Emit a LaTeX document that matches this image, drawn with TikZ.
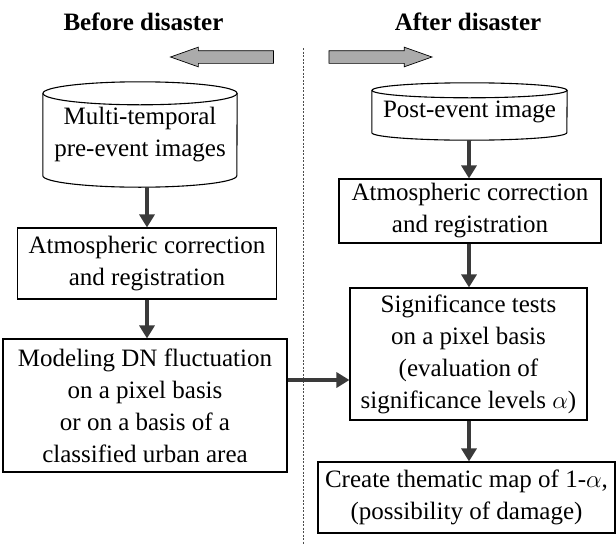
\documentclass[tikz,border=0pt]{standalone}
\usepackage{fontspec}
\setmainfont{Liberation Serif}
\usepackage{tikz}
\usetikzlibrary{arrows.meta,shapes.arrows}
\definecolor{flowink}{HTML}{3A3A3A}
\definecolor{hatchgray}{HTML}{ABABAB}

\begin{document}
\begin{tikzpicture}[
  x=1pt, y=-1pt,
  font=\fontsize{25}{32}\selectfont,
  >={Triangle[length=13pt,width=15pt]},
  stepbox/.style={draw=black, line width=1.1pt, fill=white, align=center,
                  inner sep=2pt},
  cylbody/.style={align=center, inner sep=0pt},
  cyl/.style={draw=black, line width=1.1pt},
  ar/.style={->, draw=flowink, line width=3.4pt},
  side/.style={single arrow, draw=black, line width=0.7pt, fill=hatchgray,
               minimum width=19pt, minimum height=103pt,
               single arrow head extend=3.5pt, single arrow head indent=0pt,
               single arrow tip angle=39, inner sep=6pt},
  head/.style={font=\fontsize{25}{30}\selectfont\bfseries}
]
\useasboundingbox (0,0) rectangle (616,544);

% ==== column geometry
\def\ca{147}   \def\cb{469}   % before, after
\def\xsep{303}                % divider

% ==== headings and direction arrows
\node[head] (hB) at (143.5,22) {Before disaster};
\node[head] (hA) at (468,22) {After disaster};
\node[side, shape border rotate=180] (toB) at (231,57) {};
\node[side] (toA) at (371.5,57) {};
\draw[draw=black!70, line width=0.6pt, dash pattern=on 2pt off 1.5pt]
     (\xsep,48) -- (\xsep,544);

% ==== before disaster
\node[cylbody, minimum width=194pt, minimum height=82pt] (preimg) at (140,134.5)
     {Multi-temporal\\pre-event images};
\draw[cyl] (preimg.north) ellipse [x radius=97pt, y radius=11.5pt];
\draw[cyl] (preimg.north west) -- (preimg.south west)
     arc[start angle=180, end angle=360, x radius=97pt, y radius=11.5pt]
     -- (preimg.north east);
\coordinate (preimgB) at (\ca,187);

\node[stepbox, minimum width=259pt, minimum height=71pt] (atmB) at (\ca,263.5)
     {Atmospheric correction\\and registration};
\node[stepbox, minimum width=284pt, minimum height=133pt] (model) at (145,405.5)
     {Modeling DN fluctuation\\on a pixel basis\\or on a basis of a\\classified urban area};
\draw[ar] (preimgB) -- (atmB.north);
\draw[ar] (atmB.south -| \ca,0) -- (model.north -| \ca,0);

% ==== after disaster
\node[cylbody, minimum width=195pt, minimum height=42pt] (postimg) at (469.5,111.5)
     {Post-event image};
\draw[cyl] (postimg.north) ellipse [x radius=97.5pt, y radius=7.5pt];
\draw[cyl] (postimg.north west) -- (postimg.south west)
     arc[start angle=180, end angle=360, x radius=97.5pt, y radius=7.5pt]
     -- (postimg.north east);
\coordinate (postimgB) at (\cb,140);

\node[stepbox, minimum width=262pt, minimum height=64pt] (atmA) at (470,211)
     {Atmospheric correction\\and registration};
\node[stepbox, minimum width=237pt, minimum height=132pt] (sig) at (468.5,354)
     {Significance tests\\on a pixel basis\\(evaluation of\\significance levels $\alpha$)};
\node[stepbox, minimum width=297pt, minimum height=71pt] (tmap) at (466.5,497.5)
     {Create thematic map of 1-$\alpha$,\\(possibility of damage)};
\draw[ar] (postimgB) -- (atmA.north -| \cb,0);
\draw[ar] (atmA.south -| \cb,0) -- (sig.north -| \cb,0);
\draw[ar] (sig.south -| \cb,0) -- (tmap.north -| \cb,0);

% ==== model feeds the tests
\draw[ar] ([yshift=25.5pt]model.east) -- ([yshift=25.5pt]model.east -| sig.west);

\end{tikzpicture}
\end{document}
